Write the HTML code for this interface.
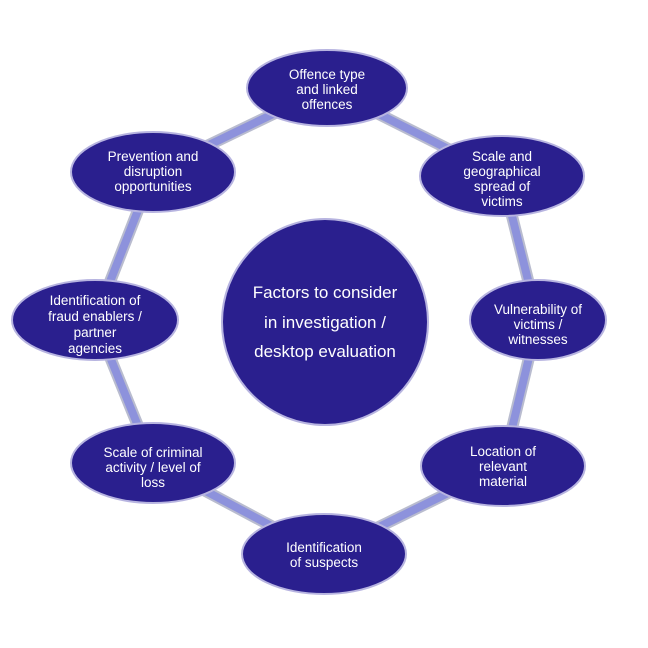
<!DOCTYPE html>
<html><head><style>
html,body{margin:0;padding:0;background:#fff;}
svg{display:block;}
text{font-family:"Liberation Sans",sans-serif;fill:#fff;text-anchor:middle;font-size:13.5px;}
text.c{font-size:17px;}
</style></head><body>
<svg width="648" height="648" viewBox="0 0 648 648">
<g stroke-linecap="butt">
<g stroke="#b9bccf" stroke-width="12">
<polyline fill="none" points="327,88 502,176 538,320 503,466 324,554 153,463 95,320 153,172 327,88"/>
</g>
<g stroke="#8d92dc" stroke-width="8">
<polyline fill="none" points="327,88 502,176 538,320 503,466 324,554 153,463 95,320 153,172 327,88"/>
</g>
</g>
<g fill="#2a1f8e" stroke="#b7b4e0" stroke-width="2">
<circle cx="325" cy="322" r="103"/>
<ellipse cx="327" cy="88" rx="80" ry="38"/>
<ellipse cx="502" cy="176" rx="82" ry="40"/>
<ellipse cx="538" cy="320" rx="68" ry="40"/>
<ellipse cx="503" cy="466" rx="82" ry="40"/>
<ellipse cx="324" cy="554" rx="82" ry="40"/>
<ellipse cx="153" cy="463" rx="82" ry="40"/>
<ellipse cx="95" cy="320" rx="83" ry="40"/>
<ellipse cx="153" cy="172" rx="82" ry="40"/>
</g>
<text class="c" x="325" y="298">Factors to consider</text>
<text class="c" x="325" y="328">in investigation /</text>
<text class="c" x="325" y="357">desktop evaluation</text>
<text x="327" y="79">Offence type</text><text x="327" y="94">and linked</text><text x="327" y="109">offences</text>
<text x="502" y="161">Scale and</text><text x="502" y="176">geographical</text><text x="502" y="191">spread of</text><text x="502" y="206">victims</text>
<text x="538" y="314">Vulnerability of</text><text x="538" y="329">victims /</text><text x="538" y="344">witnesses</text>
<text x="503" y="456">Location of</text><text x="503" y="471">relevant</text><text x="503" y="486">material</text>
<text x="324" y="552">Identification</text><text x="324" y="567">of suspects</text>
<text x="153" y="457">Scale of criminal</text><text x="153" y="472">activity / level of</text><text x="153" y="487">loss</text>
<text x="95" y="305">Identification of</text><text x="95" y="321">fraud enablers /</text><text x="95" y="337">partner</text><text x="95" y="353">agencies</text>
<text x="153" y="161">Prevention and</text><text x="153" y="176">disruption</text><text x="153" y="191">opportunities</text>
</svg>
</body></html>
